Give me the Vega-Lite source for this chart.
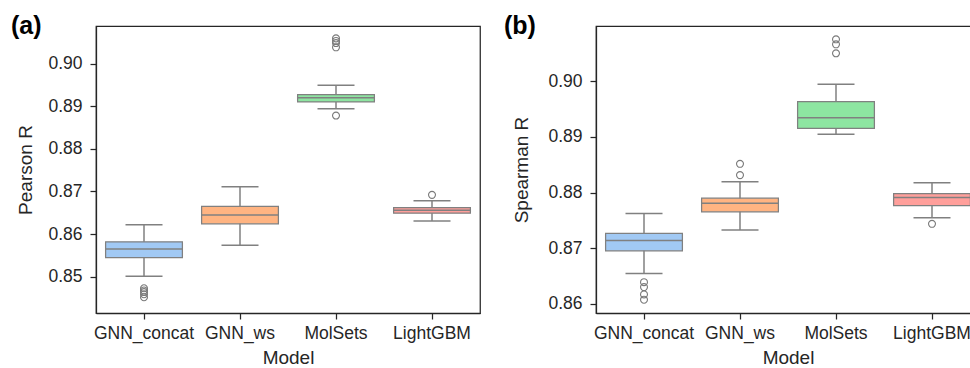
{
  "$schema": "https://vega.github.io/schema/vega-lite/v6.json",
  "padding": {"left": 10, "top": 12, "right": 0, "bottom": 0},
  "spacing": 22,
  "config": {
    "font": "Liberation Sans",
    "view": {"stroke": "#262626", "strokeWidth": 1.25},
    "axis": {
      "labelFont": "Liberation Sans", "labelFontSize": 17.5, "labelColor": "#262626",
      "titleFont": "Liberation Sans", "titleFontSize": 19, "titleFontWeight": "normal", "titleColor": "#262626",
      "domainColor": "#262626", "domainWidth": 1.25, "tickColor": "#262626", "tickWidth": 1.25, "tickSize": 6,
      "grid": false
    },
    "axisX": {"labelPadding": 5, "titlePadding": 7},
    "axisY": {"labelPadding": 8}
  },
  "datasets": {
    "pearson_box": [
      {"model": "GNN_concat", "lower": 0.8501, "q1": 0.8545, "median": 0.8565, "q3": 0.8582, "upper": 0.8622},
      {"model": "GNN_ws", "lower": 0.8574, "q1": 0.8624, "median": 0.8645, "q3": 0.8665, "upper": 0.8711},
      {"model": "MolSets", "lower": 0.8894, "q1": 0.8910, "median": 0.8920, "q3": 0.8927, "upper": 0.8949},
      {"model": "LightGBM", "lower": 0.8631, "q1": 0.8649, "median": 0.8656, "q3": 0.8662, "upper": 0.8678}
    ],
    "pearson_out": [
      {"model": "GNN_concat", "value": 0.8473},
      {"model": "GNN_concat", "value": 0.8468},
      {"model": "GNN_concat", "value": 0.8464},
      {"model": "GNN_concat", "value": 0.8459},
      {"model": "GNN_concat", "value": 0.8452},
      {"model": "MolSets", "value": 0.9059},
      {"model": "MolSets", "value": 0.9053},
      {"model": "MolSets", "value": 0.9048},
      {"model": "MolSets", "value": 0.9038},
      {"model": "MolSets", "value": 0.8878},
      {"model": "LightGBM", "value": 0.8692}
    ],
    "spearman_box": [
      {"model": "GNN_concat", "lower": 0.86545, "q1": 0.86951, "median": 0.87138, "q3": 0.87264, "upper": 0.87624},
      {"model": "GNN_ws", "lower": 0.87324, "q1": 0.87653, "median": 0.87809, "q3": 0.87899, "upper": 0.88193},
      {"model": "MolSets", "lower": 0.89047, "q1": 0.89155, "median": 0.89345, "q3": 0.89633, "upper": 0.89946},
      {"model": "LightGBM", "lower": 0.87545, "q1": 0.87766, "median": 0.8791, "q3": 0.87982, "upper": 0.88174}
    ],
    "spearman_out": [
      {"model": "GNN_concat", "value": 0.86388},
      {"model": "GNN_concat", "value": 0.86299},
      {"model": "GNN_concat", "value": 0.86167},
      {"model": "GNN_concat", "value": 0.86072},
      {"model": "GNN_ws", "value": 0.88516},
      {"model": "GNN_ws", "value": 0.88313},
      {"model": "MolSets", "value": 0.90755},
      {"model": "MolSets", "value": 0.90665},
      {"model": "MolSets", "value": 0.90504},
      {"model": "LightGBM", "value": 0.87437}
    ]
  },
  "hconcat": [
    {
      "width": 384, "height": 287,
      "title": {"text": "(a)", "anchor": "start", "frame": "group", "dx": -85, "dy": 7, "offset": -25.5, "baseline": "alphabetic", "fontSize": 25, "fontWeight": "bold", "color": "#000000", "font": "Liberation Sans"},
      "encoding": {
        "x": {"field": "model", "type": "nominal", "sort": ["GNN_concat", "GNN_ws", "MolSets", "LightGBM"],
              "scale": {"domain": ["GNN_concat", "GNN_ws", "MolSets", "LightGBM"], "paddingInner": 0, "paddingOuter": 0},
              "axis": {"labelAngle": 0, "title": "Model"}}
      },
      "layer": [
        {"data": {"name": "pearson_box"}, "mark": {"type": "rule", "color": "#808080", "strokeWidth": 1.5},
         "encoding": {"y": {"field": "lower", "type": "quantitative", "scale": {"domain": [0.8415, 0.9088], "nice": false, "zero": false},
                            "axis": {"values": [0.85, 0.86, 0.87, 0.88, 0.89, 0.90], "format": ".2f", "title": "Pearson R", "titlePadding": 12}},
                      "y2": {"field": "upper"}}},
        {"data": {"name": "pearson_box"}, "mark": {"type": "bar", "stroke": "#808080", "strokeWidth": 1.25, "width": {"band": 0.8}},
         "encoding": {"y": {"field": "q1", "type": "quantitative", "scale": {"domain": [0.8415, 0.9088], "nice": false, "zero": false},
                            "axis": {"values": [0.85, 0.86, 0.87, 0.88, 0.89, 0.90], "format": ".2f", "title": "Pearson R", "titlePadding": 12}},
                      "y2": {"field": "q3"},
                      "color": {"field": "model", "type": "nominal", "legend": null,
                                "scale": {"domain": ["GNN_concat", "GNN_ws", "MolSets", "LightGBM"], "range": ["#a1c9f4", "#ffb482", "#8de5a1", "#ff9f9b"]}}}},
        {"data": {"name": "pearson_box"}, "mark": {"type": "tick", "color": "#808080", "thickness": 1.5, "size": 77, "opacity": 1},
         "encoding": {"y": {"field": "median", "type": "quantitative", "scale": {"domain": [0.8415, 0.9088], "nice": false, "zero": false},
                            "axis": {"values": [0.85, 0.86, 0.87, 0.88, 0.89, 0.90], "format": ".2f", "title": "Pearson R", "titlePadding": 12}}}},
        {"data": {"name": "pearson_box"}, "mark": {"type": "tick", "color": "#808080", "thickness": 1.5, "size": 37, "opacity": 1},
         "encoding": {"y": {"field": "lower", "type": "quantitative", "scale": {"domain": [0.8415, 0.9088], "nice": false, "zero": false},
                            "axis": {"values": [0.85, 0.86, 0.87, 0.88, 0.89, 0.90], "format": ".2f", "title": "Pearson R", "titlePadding": 12}}}},
        {"data": {"name": "pearson_box"}, "mark": {"type": "tick", "color": "#808080", "thickness": 1.5, "size": 37, "opacity": 1},
         "encoding": {"y": {"field": "upper", "type": "quantitative", "scale": {"domain": [0.8415, 0.9088], "nice": false, "zero": false},
                            "axis": {"values": [0.85, 0.86, 0.87, 0.88, 0.89, 0.90], "format": ".2f", "title": "Pearson R", "titlePadding": 12}}}},
        {"data": {"name": "pearson_out"}, "mark": {"type": "point", "shape": "circle", "filled": false, "stroke": "#7a7a7a", "strokeWidth": 1.1, "size": 48, "opacity": 1},
         "encoding": {"y": {"field": "value", "type": "quantitative", "scale": {"domain": [0.8415, 0.9088], "nice": false, "zero": false},
                            "axis": {"values": [0.85, 0.86, 0.87, 0.88, 0.89, 0.90], "format": ".2f", "title": "Pearson R", "titlePadding": 12}}}}
      ]
    },
    {
      "width": 384, "height": 287,
      "title": {"text": "(b)", "anchor": "start", "frame": "group", "dx": -92, "dy": 7, "offset": -25.5, "baseline": "alphabetic", "fontSize": 25, "fontWeight": "bold", "color": "#000000", "font": "Liberation Sans"},
      "encoding": {
        "x": {"field": "model", "type": "nominal", "sort": ["GNN_concat", "GNN_ws", "MolSets", "LightGBM"],
              "scale": {"domain": ["GNN_concat", "GNN_ws", "MolSets", "LightGBM"], "paddingInner": 0, "paddingOuter": 0},
              "axis": {"labelAngle": 0, "title": "Model"}}
      },
      "layer": [
        {"data": {"name": "spearman_box"}, "mark": {"type": "rule", "color": "#808080", "strokeWidth": 1.5},
         "encoding": {"y": {"field": "lower", "type": "quantitative", "scale": {"domain": [0.85833, 0.90995], "nice": false, "zero": false},
                            "axis": {"values": [0.86, 0.87, 0.88, 0.89, 0.90], "format": ".2f", "title": "Spearman R", "titlePadding": 16}},
                      "y2": {"field": "upper"}}},
        {"data": {"name": "spearman_box"}, "mark": {"type": "bar", "stroke": "#808080", "strokeWidth": 1.25, "width": {"band": 0.8}},
         "encoding": {"y": {"field": "q1", "type": "quantitative", "scale": {"domain": [0.85833, 0.90995], "nice": false, "zero": false},
                            "axis": {"values": [0.86, 0.87, 0.88, 0.89, 0.90], "format": ".2f", "title": "Spearman R", "titlePadding": 16}},
                      "y2": {"field": "q3"},
                      "color": {"field": "model", "type": "nominal", "legend": null,
                                "scale": {"domain": ["GNN_concat", "GNN_ws", "MolSets", "LightGBM"], "range": ["#a1c9f4", "#ffb482", "#8de5a1", "#ff9f9b"]}}}},
        {"data": {"name": "spearman_box"}, "mark": {"type": "tick", "color": "#808080", "thickness": 1.5, "size": 77, "opacity": 1},
         "encoding": {"y": {"field": "median", "type": "quantitative", "scale": {"domain": [0.85833, 0.90995], "nice": false, "zero": false},
                            "axis": {"values": [0.86, 0.87, 0.88, 0.89, 0.90], "format": ".2f", "title": "Spearman R", "titlePadding": 16}}}},
        {"data": {"name": "spearman_box"}, "mark": {"type": "tick", "color": "#808080", "thickness": 1.5, "size": 37, "opacity": 1},
         "encoding": {"y": {"field": "lower", "type": "quantitative", "scale": {"domain": [0.85833, 0.90995], "nice": false, "zero": false},
                            "axis": {"values": [0.86, 0.87, 0.88, 0.89, 0.90], "format": ".2f", "title": "Spearman R", "titlePadding": 16}}}},
        {"data": {"name": "spearman_box"}, "mark": {"type": "tick", "color": "#808080", "thickness": 1.5, "size": 37, "opacity": 1},
         "encoding": {"y": {"field": "upper", "type": "quantitative", "scale": {"domain": [0.85833, 0.90995], "nice": false, "zero": false},
                            "axis": {"values": [0.86, 0.87, 0.88, 0.89, 0.90], "format": ".2f", "title": "Spearman R", "titlePadding": 16}}}},
        {"data": {"name": "spearman_out"}, "mark": {"type": "point", "shape": "circle", "filled": false, "stroke": "#7a7a7a", "strokeWidth": 1.1, "size": 48, "opacity": 1},
         "encoding": {"y": {"field": "value", "type": "quantitative", "scale": {"domain": [0.85833, 0.90995], "nice": false, "zero": false},
                            "axis": {"values": [0.86, 0.87, 0.88, 0.89, 0.90], "format": ".2f", "title": "Spearman R", "titlePadding": 16}}}}
      ]
    }
  ]
}
